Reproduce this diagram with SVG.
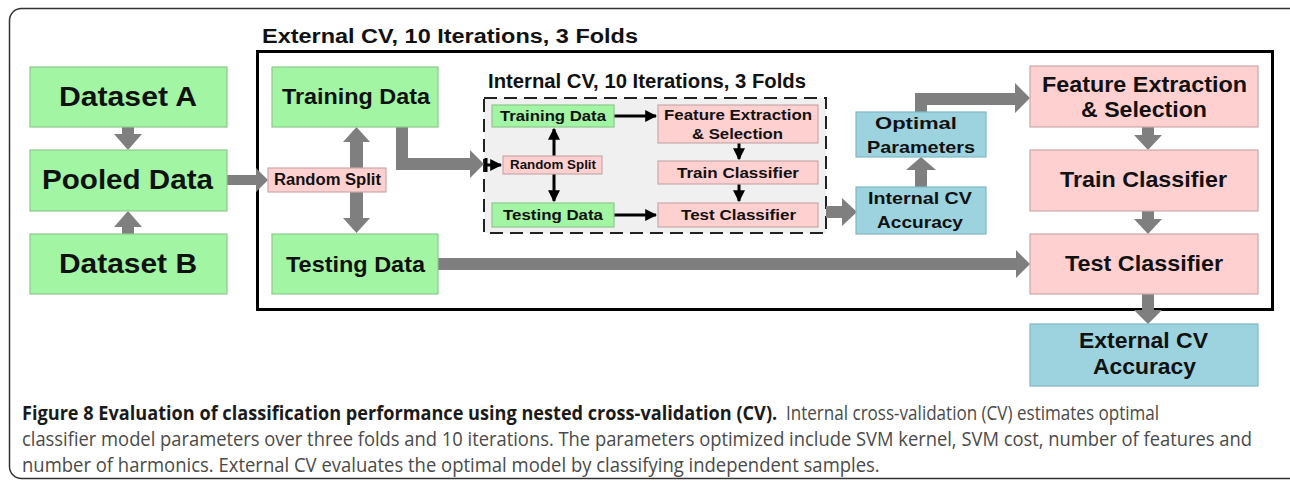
<svg xmlns="http://www.w3.org/2000/svg" width="1290" height="484" viewBox="0 0 1290 484">
<style>
.g{fill:#a2f5a2;stroke:#8cc88c;stroke-width:1.2}
.p{fill:#ffd0d0;stroke:#c9a9a9;stroke-width:1.2}
.b{fill:#9dd3de;stroke:#7fb8c4;stroke-width:1.2}
.t{font-family:"Liberation Sans",Arial,sans-serif;font-weight:bold;fill:#111;text-anchor:start}
.ga{fill:#7f7f7f}
.bl{stroke:#000;stroke-width:3;fill:none}
.cap{font-family:"Open Sans","Liberation Sans",sans-serif;font-size:20px}
</style>
<defs>
<marker id="ah" viewBox="0 0 10 10" refX="9" refY="5" markerWidth="4" markerHeight="4" orient="auto" markerUnits="strokeWidth">
<path d="M0,0 L10,5 L0,10 z" fill="#000"/>
</marker>
</defs>
<rect x="0" y="0" width="1290" height="484" fill="#fff"/>
<rect x="9.5" y="8.5" width="1300" height="470" rx="12" fill="none" stroke="#333" stroke-width="1.5"/>

<!-- frames -->
<g id="external-cv">
<rect x="257.5" y="51.5" width="1015" height="258" fill="none" stroke="#000" stroke-width="3"/>
<text class="t" x="262" y="43" font-size="20" textLength="376" lengthAdjust="spacingAndGlyphs">External CV, 10 Iterations, 3 Folds</text>
</g>
<g id="internal-cv">
<rect x="484" y="98" width="342" height="135" fill="#f0f0f0" stroke="#222" stroke-width="2" stroke-dasharray="13,7"/>
<text class="t" x="488" y="88" font-size="20" textLength="318" lengthAdjust="spacingAndGlyphs">Internal CV, 10 Iterations, 3 Folds</text>
</g>

<!-- connectors -->
<g id="connectors">
<path class="ga" d="M122,127 H134 V134 H142 L128,150 L114,134 H122 Z"/>
<path class="ga" d="M122,234 H134 V227 H142 L128,211 L114,227 H122 Z"/>
<path class="ga" d="M227,175 H256 V168 L268,180 L256,192 V185 H227 Z"/>
<path class="ga" d="M350,142 H343 L356.5,127 L370,142 H363 V218 H370 L356.5,233 L343,218 H350 Z"/>
<path class="ga" d="M396,127 H408 V158 H470 V150 L484,164 L470,178 V170 H396 Z"/>
<path class="ga" d="M826,206 H842 V198 L857,212 L842,226 V218 H826 Z"/>
<path class="ga" d="M915,187 V170 H906 L921,157 L936,170 H927 V187 Z"/>
<path class="ga" d="M915,112 V93 H1015 V83 L1030,98 L1015,113 V105 H927 V112 Z"/>
<path class="ga" d="M1142,127 H1154 V135 H1162 L1148,150 L1134,135 H1142 Z"/>
<path class="ga" d="M1142,211 H1154 V219 H1162 L1148,234 L1134,219 H1142 Z"/>
<path class="ga" d="M438,258 H1016 V250 L1030,264 L1016,278 V270 H438 Z"/>
<path class="ga" d="M1142,294 H1154 V310 H1162 L1148,324 L1134,310 H1142 Z"/>

<line class="bl" x1="484" y1="165" x2="501" y2="165" marker-end="url(#ah)"/>
<line class="bl" x1="486" y1="158" x2="486" y2="172" stroke-width="2"/>
<line class="bl" x1="554" y1="156" x2="554" y2="129" marker-end="url(#ah)"/>
<line class="bl" x1="554" y1="174" x2="554" y2="201" marker-end="url(#ah)"/>
<line class="bl" x1="614" y1="116" x2="656" y2="116" marker-end="url(#ah)"/>
<line class="bl" x1="614" y1="215" x2="656" y2="215" marker-end="url(#ah)"/>
<line class="bl" x1="739" y1="143" x2="739" y2="159" marker-end="url(#ah)"/>
<line class="bl" x1="739" y1="184" x2="739" y2="201" marker-end="url(#ah)"/>
</g>

<!-- left nodes -->
<g id="dataset-a"><rect class="g" x="30" y="67" width="197" height="60"/><text class="t" x="59" y="106" font-size="28" textLength="138" lengthAdjust="spacingAndGlyphs">Dataset A</text></g>
<g id="pooled-data"><rect class="g" x="30" y="150" width="197" height="61"/><text class="t" x="42" y="189" font-size="28" textLength="171" lengthAdjust="spacingAndGlyphs">Pooled Data</text></g>
<g id="dataset-b"><rect class="g" x="30" y="234" width="197" height="60"/><text class="t" x="59" y="273" font-size="28" textLength="138" lengthAdjust="spacingAndGlyphs">Dataset B</text></g>

<!-- outer CV nodes -->
<g id="training-data"><rect class="g" x="272" y="67" width="166" height="60"/><text class="t" x="282" y="104" font-size="22" textLength="148" lengthAdjust="spacingAndGlyphs">Training Data</text></g>
<g id="random-split"><rect class="p" x="268" y="168" width="118" height="24"/><text class="t" x="274" y="185" font-size="16" textLength="107" lengthAdjust="spacingAndGlyphs">Random Split</text></g>
<g id="testing-data"><rect class="g" x="272" y="234" width="166" height="60"/><text class="t" x="286" y="272" font-size="22" textLength="139" lengthAdjust="spacingAndGlyphs">Testing Data</text></g>

<!-- inner nodes -->
<g id="in-training"><rect class="g" x="492" y="105" width="122" height="22"/><text class="t" x="500" y="121" font-size="15" textLength="106" lengthAdjust="spacingAndGlyphs">Training Data</text></g>
<g id="in-random-split"><rect class="p" x="503" y="156" width="99" height="18"/><text class="t" x="510" y="169" font-size="12" textLength="86" lengthAdjust="spacingAndGlyphs">Random Split</text></g>
<g id="in-testing"><rect class="g" x="492" y="203" width="122" height="24"/><text class="t" x="503" y="220" font-size="15" textLength="100" lengthAdjust="spacingAndGlyphs">Testing Data</text></g>
<g id="in-feature"><rect class="p" x="658" y="105" width="160" height="38"/><text class="t" x="664" y="120" font-size="15" textLength="148" lengthAdjust="spacingAndGlyphs">Feature Extraction</text><text class="t" x="692" y="139" font-size="15" textLength="91" lengthAdjust="spacingAndGlyphs">&amp; Selection</text></g>
<g id="in-train"><rect class="p" x="658" y="161" width="160" height="23"/><text class="t" x="677" y="178" font-size="15" textLength="122" lengthAdjust="spacingAndGlyphs">Train Classifier</text></g>
<g id="in-test"><rect class="p" x="658" y="203" width="160" height="24"/><text class="t" x="681" y="220" font-size="15" textLength="115" lengthAdjust="spacingAndGlyphs">Test Classifier</text></g>

<!-- blue nodes -->
<g id="optimal-parameters"><rect class="b" x="856" y="112" width="130" height="45"/><text class="t" x="875" y="129" font-size="17" textLength="82" lengthAdjust="spacingAndGlyphs">Optimal</text><text class="t" x="867" y="153" font-size="17" textLength="108" lengthAdjust="spacingAndGlyphs">Parameters</text></g>
<g id="internal-cv-accuracy"><rect class="b" x="856" y="187" width="130" height="47"/><text class="t" x="868" y="204" font-size="17" textLength="104" lengthAdjust="spacingAndGlyphs">Internal CV</text><text class="t" x="877" y="228" font-size="17" textLength="86" lengthAdjust="spacingAndGlyphs">Accuracy</text></g>

<!-- right nodes -->
<g id="feature-extraction"><rect class="p" x="1030" y="66" width="228" height="61"/><text class="t" x="1042" y="92" font-size="22" textLength="205" lengthAdjust="spacingAndGlyphs">Feature Extraction</text><text class="t" x="1081" y="117" font-size="22" textLength="126" lengthAdjust="spacingAndGlyphs">&amp; Selection</text></g>
<g id="train-classifier"><rect class="p" x="1030" y="150" width="228" height="61"/><text class="t" x="1060" y="187" font-size="22" textLength="167" lengthAdjust="spacingAndGlyphs">Train Classifier</text></g>
<g id="test-classifier"><rect class="p" x="1030" y="234" width="228" height="60"/><text class="t" x="1065" y="271" font-size="22" textLength="158" lengthAdjust="spacingAndGlyphs">Test Classifier</text></g>
<g id="external-cv-accuracy"><rect class="b" x="1030" y="324" width="228" height="62"/><text class="t" x="1079" y="348" font-size="22" textLength="129" lengthAdjust="spacingAndGlyphs">External CV</text><text class="t" x="1093" y="374" font-size="22" textLength="103" lengthAdjust="spacingAndGlyphs">Accuracy</text></g>

<!-- caption -->
<g id="caption">
<text class="cap" transform="translate(22,420) scale(0.82,1)" x="0" y="0" font-weight="bold" fill="#1a1a1a" textLength="921" lengthAdjust="spacingAndGlyphs">Figure 8 Evaluation of classification performance using nested cross-validation (CV).</text>
<text class="cap" transform="translate(786,420) scale(0.82,1)" x="0" y="0" fill="#4a4a4a" textLength="455" lengthAdjust="spacingAndGlyphs">Internal cross-validation (CV) estimates optimal</text>
<text class="cap" transform="translate(22,446) scale(0.82,1)" x="0" y="0" fill="#4a4a4a" textLength="1500" lengthAdjust="spacingAndGlyphs">classifier model parameters over three folds and 10 iterations. The parameters optimized include SVM kernel, SVM cost, number of features and</text>
<text class="cap" transform="translate(22,472) scale(0.82,1)" x="0" y="0" fill="#4a4a4a" textLength="1046" lengthAdjust="spacingAndGlyphs">number of harmonics. External CV evaluates the optimal model by classifying independent samples.</text>
</g>
</svg>
